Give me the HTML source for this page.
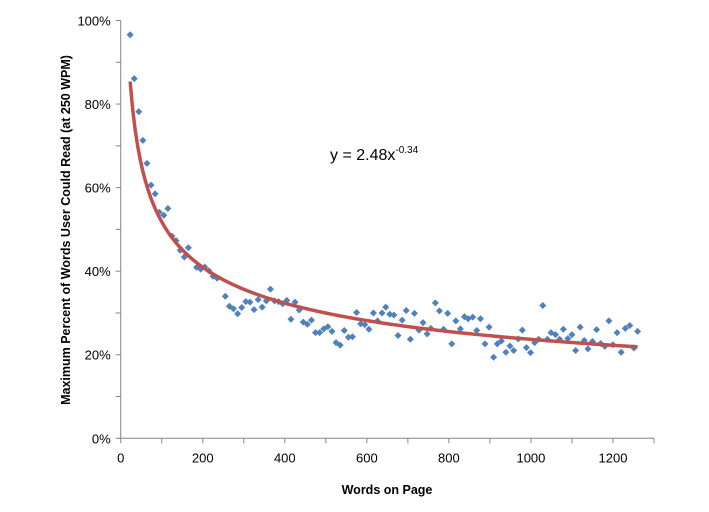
<!DOCTYPE html>
<html><head><meta charset="utf-8"><style>
body{margin:0;background:#fff}
svg text{font-family:"Liberation Sans",sans-serif}
</style></head><body>
<svg id="chart" width="709" height="507" xmlns="http://www.w3.org/2000/svg">
<g id="axes"></g><g id="marks"></g>
<text transform="translate(70,230) rotate(-90)" text-anchor="middle" font-size="12.5" font-weight="bold" fill="#000">Maximum Percent of Words User Could Read (at 250 WPM)</text>
<text x="387" y="494" text-anchor="middle" font-size="12.5" font-weight="bold" fill="#000">Words on Page</text>
<text x="330" y="160" font-size="16" fill="#000">y = 2.48x<tspan dy="-7" font-size="10">-0.34</tspan></text>
</svg>
<script>
const wordsOnPage=[23,33,44,54,64,74,84,94,105,115,125,135,145,155,165,185,195,205,215,225,235,255,265,275,285,295,305,315,325,335,345,355,365,375,385,395,405,415,425,435,445,455,465,475,485,495,505,515,525,535,545,555,565,575,585,595,605,616,626,637,646,656,666,676,686,696,706,716,727,737,747,756,767,777,787,797,807,817,828,838,847,858,868,877,888,898,909,918,928,939,949,958,969,979,989,999,1009,1019,1029,1040,1049,1060,1070,1079,1090,1100,1109,1120,1130,1139,1150,1160,1170,1180,1190,1200,1210,1220,1230,1241,1251,1260];
const percentRead=[96.6,86.1,78.2,71.3,65.8,60.6,58.5,54.1,53.4,55.0,48.4,47.3,45.0,43.4,45.6,40.9,40.5,41.0,40.1,38.8,38.3,34.0,31.6,31.0,29.8,31.3,32.7,32.6,30.8,33.2,31.4,32.9,35.7,32.9,32.7,32.2,33.0,28.5,32.6,30.7,27.8,27.3,28.3,25.3,25.3,26.2,26.7,25.6,22.9,22.3,25.8,24.2,24.3,30.1,27.4,27.2,26.1,30.0,28.1,30.0,31.4,29.7,29.5,24.6,28.3,30.6,23.7,29.9,25.9,27.7,25.0,26.3,32.4,30.5,26.1,29.9,22.6,28.1,26.2,29.1,28.6,29.0,25.8,28.6,22.6,26.6,19.4,22.6,23.3,20.6,22.1,21.0,23.8,25.9,21.7,20.5,22.9,23.7,31.8,23.7,25.3,24.8,23.7,26.1,23.9,24.8,21.0,26.6,23.4,21.4,23.2,26.0,22.7,22.0,28.1,22.4,25.3,20.6,26.3,27.0,21.6,25.6];
const xTickLabels=[0,200,400,600,800,1000,1200];
const yTickLabels=[0,20,40,60,80,100];
const trendCoef=2.48, trendExp=-0.34;
const X0=120.7,X1=654,Y0=438.3,Y1=20.5,XMAX=1300,YMAX=100;
function sx(v){return X0+(X1-X0)*v/XMAX;}
function sy(v){return Y0-(Y0-Y1)*v/YMAX;}
const NS="http://www.w3.org/2000/svg";
function mk(tag,attrs,parent){const e=document.createElementNS(NS,tag);for(const k in attrs)e.setAttribute(k,attrs[k]);parent.appendChild(e);return e;}
const axes=document.getElementById('axes'),marks=document.getElementById('marks');
let el=mk('line',{x1:X0,y1:Y1,x2:X0,y2:Y0,stroke:'#868686','stroke-width':1},axes);


el=mk('line',{x1:X0,y1:Y0,x2:X1,y2:Y0,stroke:'#868686','stroke-width':1},axes);


for(let v=0;v<=YMAX;v+=10){mk('line',{x1:X0-5,x2:X0,y1:sy(v),y2:sy(v),stroke:'#868686'},axes);}
for(let v=0;v<=XMAX;v+=100){mk('line',{x1:sx(v),x2:sx(v),y1:Y0,y2:Y0+5,stroke:'#868686'},axes);}
yTickLabels.forEach(v=>{const t=mk('text',{x:X0-10,y:sy(v)+5,'text-anchor':'end','font-size':'13',fill:'#000'},axes);t.textContent=v+'%';

});
xTickLabels.forEach(v=>{const t=mk('text',{x:sx(v),y:Y0+24,'text-anchor':'middle','font-size':'13',fill:'#000'},axes);t.textContent=v;

});
wordsOnPage.forEach((w,i)=>{const cx=sx(w),cy=sy(percentRead[i]);
const p=mk('polygon',{points:`${cx},${cy-3.5} ${cx+3.5},${cy} ${cx},${cy+3.5} ${cx-3.5},${cy}`,fill:'#4f81bd'},marks);

});
let d='';const xa=wordsOnPage[0],xb=wordsOnPage[wordsOnPage.length-1];
for(let k=0;k<=200;k++){const w=xa+(xb-xa)*k/200;const y=trendCoef*Math.pow(w,trendExp)*100;d+=(k?'L':'M')+sx(w).toFixed(2)+','+sy(y).toFixed(2);}
const tl=mk('path',{d:d,fill:'none',stroke:'#c0504d','stroke-width':3.5},marks);


</script>
</body></html>
